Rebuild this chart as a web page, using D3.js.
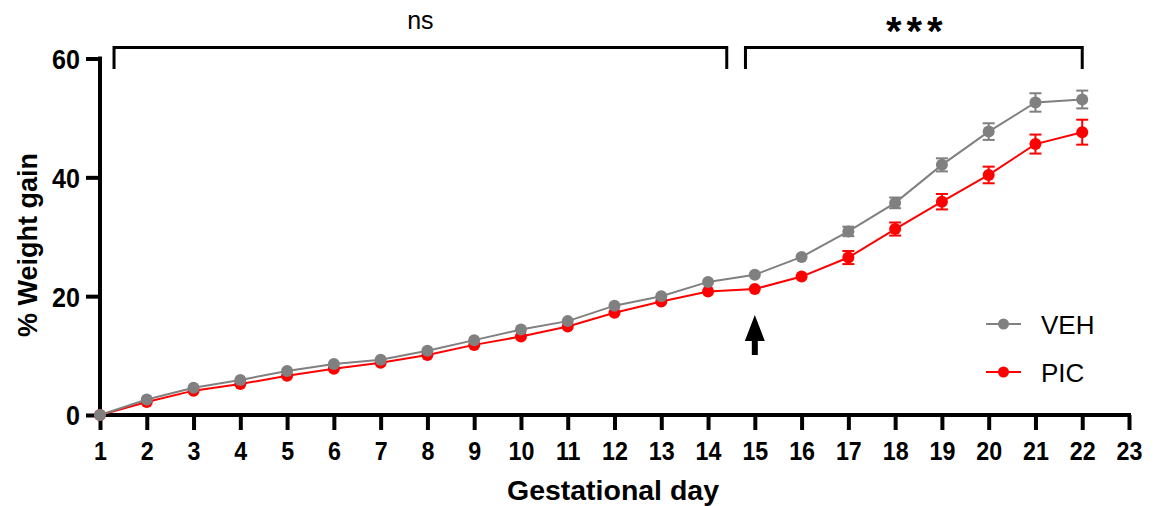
<!DOCTYPE html>
<meta charset="utf-8">
<style>
    body { margin: 0; background: #fff; }
    svg text { font-family: Arial, "Liberation Sans", sans-serif; }
    .axis path, .axis line { stroke: #000; stroke-width: 4; fill: none; }
    .axis text { font-weight: bold; fill: #000; }
</style>
<svg id="chart" width="1157" height="506"></svg>
<script src="https://cdn.jsdelivr.net/npm/d3@7"></script>
<script>

    // gestational days and tick values
    var days = d3.range(1, 23);
    var xTicks = d3.range(1, 24);
    var yTicks = [0, 20, 40, 60];

    // % weight gain, mean and error (SEM)
    var vehMean = [0, 2.6, 4.6, 5.9, 7.4, 8.6, 9.3, 10.8, 12.6, 14.4, 15.8, 18.4, 20.0, 22.4, 23.6, 26.6, 30.9, 35.7, 42.1, 47.7, 52.6, 53.1];
    var vehErr  = [0, 0.2, 0.3, 0.3, 0.3, 0.3, 0.3, 0.4, 0.4, 0.4, 0.4, 0.4, 0.4, 0.4, 0.5, 0.5, 0.8, 0.9, 1.1, 1.4, 1.55, 1.5];
    var picMean = [0, 2.2, 4.1, 5.2, 6.6, 7.8, 8.8, 10.1, 11.8, 13.2, 14.9, 17.2, 19.1, 20.8, 21.2, 23.3, 26.5, 31.3, 35.9, 40.4, 45.6, 47.6];
    var picErr  = [0, 0.2, 0.3, 0.3, 0.3, 0.3, 0.3, 0.3, 0.4, 0.4, 0.4, 0.5, 0.5, 0.5, 0.4, 0.5, 1.1, 1.1, 1.3, 1.4, 1.6, 2.1];

    // significance brackets (in day units)
    var brackets = [
        {from: 1.3, to: 14.4, label: "ns"},
        {from: 14.8, to: 22, label: "***"}
    ];
    var arrowDay = 15;

    var series = [
        {name: "PIC", color: "#ff0000", mean: picMean, err: picErr},
        {name: "VEH", color: "#808080", mean: vehMean, err: vehErr}
    ];

    var svg = d3.select("#chart");

    var x = d3.scaleLinear().domain([1, 23]).range([100, 1129]);
    var y = d3.scaleLinear().domain([0, 60]).range([415, 58.5]);

    // axes
    var xAxis = d3.axisBottom(x).tickValues(xTicks).tickFormat(d3.format("d")).tickSize(15).tickSizeOuter(0);
    var gX = svg.append("g")
        .attr("class", "axis")
        .attr("transform", "translate(0," + y(0) + ")")
        .call(xAxis);
    gX.select(".domain").attr("d", "M" + (x(1) - 2) + ",0H" + (x(23) + 2));
    gX.selectAll("text").attr("dy", 0).attr("y", 45)
        .attr("transform", "scale(0.93,1)")
        .style("font-size", "25px");

    var yAxis = d3.axisLeft(y).tickValues(yTicks).tickSize(14).tickSizeOuter(0);
    var gY = svg.append("g")
        .attr("class", "axis")
        .attr("transform", "translate(" + x(1) + ",0)")
        .call(yAxis);
    gY.select(".domain").attr("d", "M0," + (y(60) - 2) + "V" + (y(0) + 2));
    gY.selectAll("text").attr("x", -20 / 0.93).attr("dy", "0.37em")
        .attr("transform", "scale(0.93,1)")
        .style("font-size", "27px");

    // axis titles
    svg.append("text")
        .attr("transform", "translate(37,245) rotate(-90)")
        .attr("text-anchor", "middle")
        .style("font-size", "27px").style("font-weight", "bold")
        .text("% Weight gain");

    svg.append("text")
        .attr("x", 613).attr("y", 500)
        .attr("text-anchor", "middle")
        .style("font-size", "27px").style("font-weight", "bold")
        .attr("textLength", 212).attr("lengthAdjust", "spacingAndGlyphs")
        .text("Gestational day");

    // series
    var line = d3.line()
        .x(function(d) { return x(d.day); })
        .y(function(d) { return y(d.mean); });

    series.forEach(function(s) {
        var pts = days.map(function(d, i) { return {day: d, mean: s.mean[i], err: s.err[i]}; });
        var g = svg.append("g");

        g.append("path")
            .datum(pts)
            .attr("fill", "none")
            .attr("stroke", s.color)
            .attr("stroke-width", 2)
            .attr("d", line);

        var eb = g.selectAll(".err").data(pts.filter(function(d) { return d.err > 0.6; }))
            .enter().append("g")
            .attr("stroke", s.color)
            .attr("stroke-width", 2);
        eb.append("line")
            .attr("x1", function(d) { return x(d.day); })
            .attr("x2", function(d) { return x(d.day); })
            .attr("y1", function(d) { return y(d.mean - d.err); })
            .attr("y2", function(d) { return y(d.mean + d.err); });
        [-1, 1].forEach(function(sign) {
            eb.append("line")
                .attr("x1", function(d) { return x(d.day) - 6; })
                .attr("x2", function(d) { return x(d.day) + 6; })
                .attr("y1", function(d) { return y(d.mean + sign * d.err); })
                .attr("y2", function(d) { return y(d.mean + sign * d.err); });
        });

        g.selectAll("circle").data(pts)
            .enter().append("circle")
            .attr("cx", function(d) { return x(d.day); })
            .attr("cy", function(d) { return y(d.mean); })
            .attr("r", 6)
            .attr("fill", s.color);
    });

    // brackets
    brackets.forEach(function(b) {
        svg.append("path")
            .attr("d", "M" + x(b.from) + ",69V47.5H" + x(b.to) + "V69")
            .attr("fill", "none")
            .attr("stroke", "#000")
            .attr("stroke-width", 3);
    });
    svg.append("text")
        .attr("x", (x(brackets[0].from) + x(brackets[0].to)) / 2)
        .attr("y", 29)
        .attr("text-anchor", "middle")
        .style("font-size", "25px")
        .text(brackets[0].label);
    svg.append("text")
        .attr("x", (x(brackets[1].from) + x(brackets[1].to)) / 2 + 3)
        .attr("y", 45)
        .attr("text-anchor", "middle")
        .style("font-size", "40px").style("font-weight", "bold")
        .style("letter-spacing", "5px")
        .text(brackets[1].label);

    // arrow at day 15
    var ax = x(arrowDay);
    svg.append("path")
        .attr("d", "M" + ax + ",315L" + (ax + 10) + ",341H" + (ax + 3) + "V355H" + (ax - 3) + "V341H" + (ax - 10) + "Z")
        .attr("fill", "#000");

    // legend
    var legend = svg.append("g");
    [series[1], series[0]].forEach(function(s, i) {
        var ly = 324 + i * 48;
        legend.append("line")
            .attr("x1", 986).attr("x2", 1021)
            .attr("y1", ly).attr("y2", ly)
            .attr("stroke", s.color).attr("stroke-width", 2);
        legend.append("circle")
            .attr("cx", 1003.5).attr("cy", ly).attr("r", 5.5)
            .attr("fill", s.color);
        legend.append("text")
            .attr("x", 1041).attr("y", ly + 10)
            .style("font-size", "26px")
            .text(s.name);
    });

</script>
